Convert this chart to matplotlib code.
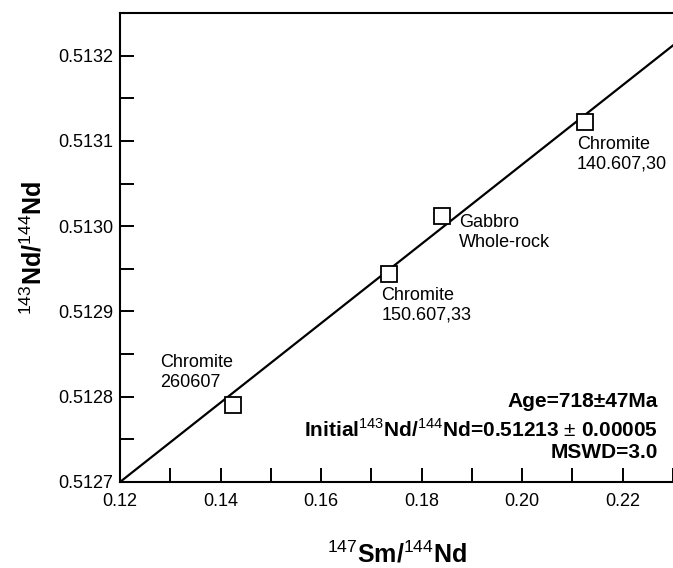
import matplotlib.pyplot as plt
from matplotlib.ticker import MultipleLocator, FormatStrFormatter

plt.rcParams['font.family'] = ['Liberation Sans', 'DejaVu Sans']
plt.rcParams['mathtext.fontset'] = 'custom'
plt.rcParams['mathtext.rm'] = 'Liberation Sans'
plt.rcParams['mathtext.bf'] = 'Liberation Sans:bold'

# sample data (147Sm/144Nd, 143Nd/144Nd)
sm_nd = [0.1424, 0.1736, 0.1841, 0.2125]
nd_nd = [0.51279, 0.512944, 0.513012, 0.513122]
labels = ["Chromite\n260607", "Chromite\n150.607,33", "Gabbro\nWhole-rock", "Chromite\n140.607,30"]

# isochron end points
line_x = [0.12, 0.23]
line_y = [0.51270, 0.513212]

label_offsets = [(-72, 51), (-8, -13), (17, 2), (-8, -14)]

fig = plt.figure(figsize=(6.73, 5.68), dpi=100)
ax = fig.add_axes([120 / 673, 86 / 568, 553 / 673, 469 / 568])

ax.plot(line_x, line_y, color='black', lw=1.6, zorder=2)
ax.plot(sm_nd, nd_nd, ls='none', marker='s', ms=12, mfc='white', mec='black', mew=1.3, zorder=3)

for x, y, lab, off in zip(sm_nd, nd_nd, labels, label_offsets):
    ax.annotate(lab, (x, y), xytext=off, textcoords='offset pixels',
                ha='left', va='top', fontsize=13, linespacing=1.2)

ax.set_xlim(0.12, 0.23)
ax.set_ylim(0.5127, 0.51325)

ax.xaxis.set_major_locator(MultipleLocator(0.02))
ax.xaxis.set_minor_locator(MultipleLocator(0.01))
ax.xaxis.set_major_formatter(FormatStrFormatter('%.2f'))
ax.yaxis.set_major_locator(MultipleLocator(0.0001))
ax.yaxis.set_minor_locator(MultipleLocator(0.00005))
ax.yaxis.set_major_formatter(FormatStrFormatter('%.4f'))

ax.tick_params(which='both', direction='in', length=10, width=1.4, labelsize=13)
ax.tick_params(axis='x', pad=8)
ax.tick_params(axis='y', pad=5)

for s in ['left', 'bottom', 'top']:
    ax.spines[s].set_linewidth(1.5)
ax.spines['right'].set_visible(False)

ax.set_xlabel(r'$^{147}$Sm/$^{144}$Nd', fontsize=18, fontweight='bold', labelpad=22)
ax.set_ylabel(r'$^{143}$Nd/$^{144}$Nd', fontsize=18, fontweight='bold', labelpad=8)

ax.text(0.973, 0.160, 'Age=718\u00b147Ma', transform=ax.transAxes,
        ha='right', va='baseline', fontsize=15, fontweight='bold')
ax.text(0.973, 0.096, r'Initial$^{143}$Nd/$^{144}$Nd=0.51213 $\pm$ 0.00005', transform=ax.transAxes,
        ha='right', va='baseline', fontsize=15, fontweight='bold')
ax.text(0.973, 0.051, 'MSWD=3.0', transform=ax.transAxes,
        ha='right', va='baseline', fontsize=15, fontweight='bold')

fig.savefig('out.png', dpi=100)
